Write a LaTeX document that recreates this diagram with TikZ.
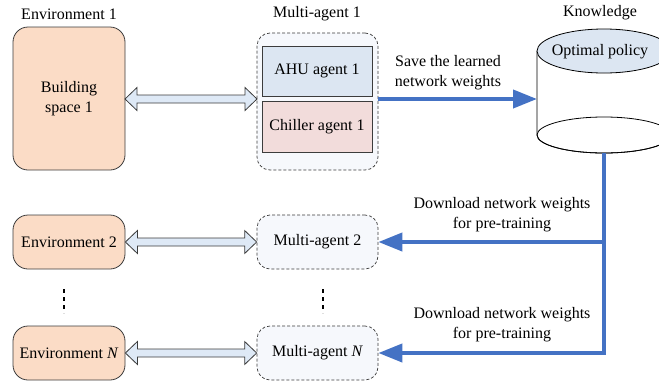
\documentclass[tikz,border=0pt]{standalone}
\usepackage{fontspec}
\setmainfont{Liberation Serif}
\usetikzlibrary{arrows.meta,calc}
\definecolor{peach}{RGB}{251,220,198}
\definecolor{ahu}{RGB}{220,230,242}
\definecolor{chil}{RGB}{242,220,219}
\definecolor{mabg}{RGB}{246,248,252}
\definecolor{dblfill}{RGB}{222,233,246}
\definecolor{myblue}{RGB}{68,114,196}
\definecolor{edge}{RGB}{60,60,60}
\tikzset{
  envbox/.style={draw=edge,line width=0.8pt,fill=peach,rounded corners=15pt,inner sep=0pt,align=center},
  mabox/.style={draw=edge,line width=0.7pt,densely dashed,fill=mabg,rounded corners=13pt,inner sep=0pt,align=center},
  agentbox/.style={draw=edge,line width=0.8pt,inner sep=0pt,align=center},
  lbl/.style={inner sep=0pt,align=center},
  bluearrow/.style={draw=myblue,line width=4pt,-{Triangle[length=24pt,width=18pt]}},
  blueline/.style={draw=myblue,line width=4pt},
  dbl/.style={draw=edge,line width=0.8pt,fill=dblfill,line join=miter},
  vdots/.style={line width=2.4pt,dash pattern=on 4pt off 4pt}
}
\newcommand\dblarrow[2]{%
  \path[dbl] let \p1=(#1.east), \p2=(#2.west) in
    (\x1,\y1) -- (\x1+12pt,\y1+11.5pt) -- (\x1+12pt,\y1+4pt) -- (\x2-12pt,\y1+4pt)
    -- (\x2-12pt,\y1+11.5pt) -- (\x2,\y1) -- (\x2-12pt,\y1-11.5pt) -- (\x2-12pt,\y1-4pt)
    -- (\x1+12pt,\y1-4pt) -- (\x1+12pt,\y1-11.5pt) -- cycle;}
\begin{document}
\begin{tikzpicture}[x=1pt,y=-1pt,font=\fontsize{16}{19.5}\selectfont]
\useasboundingbox (0,0) rectangle (659,381);
% titles
\node[lbl] (t1) at (69,14) {Environment 1};
\node[lbl] (t2) at (317,14) {Multi-agent 1};
\node[lbl] (t3) at (600,13) {Knowledge};
% environment boxes
\node[envbox,minimum width=112pt,minimum height=143pt] (env1) at (69,98.5) {Building\\space 1};
\node[envbox,minimum width=112pt,minimum height=54pt] (env2) at (69,242) {Environment 2};
\node[envbox,minimum width=112pt,minimum height=54pt] (envN) at (69,353) {Environment \textit{N}};
% multi-agent boxes
\node[mabox,minimum width=121pt,minimum height=137pt] (ma1) at (317.5,101.5) {};
\node[agentbox,fill=ahu,minimum width=110pt,minimum height=50pt] (ahu) at (317,71) {AHU agent 1};
\node[agentbox,fill=chil,minimum width=110pt,minimum height=51pt] (chiller) at (317,126.5) {Chiller agent 1};
\node[mabox,minimum width=121pt,minimum height=54pt] (ma2) at (317.5,242) {Multi-agent 2};
\node[mabox,minimum width=121pt,minimum height=54pt] (maN) at (317.5,353) {Multi-agent \textit{N}};
% dots
\draw[vdots] (64,289) -- (64,313);
\draw[vdots] (323,289) -- (323,313);
% double arrows
\coordinate (env1r) at (125,99);
\coordinate (ma1l) at (257,99);
\dblarrow{env1r}{ma1l}
\dblarrow{env2}{ma2}
\dblarrow{envN}{maN}
% knowledge cylinder
\draw[line width=0.8pt,fill=white] (537,51) -- (537,135) arc[start angle=180,end angle=360,x radius=67pt,y radius=18pt];
\draw[line width=0.8pt] (604,135) ellipse[x radius=67pt,y radius=18pt];
\draw[line width=0.8pt,fill=ahu] (604,51) ellipse[x radius=67pt,y radius=22pt];
\node[lbl] (opt) at (600,52) {Optimal policy};
\coordinate (kbleft) at (537,99);
\coordinate (kbbottom) at (604,153);
\coordinate (branch) at (604,242);
% blue arrows
\draw[bluearrow] (ma1.east |- kbleft) -- (kbleft);
\node[lbl] (save) at (448,72.5) {Save the learned\\network weights};
\draw[blueline] (kbbottom) -- (branch);
\draw[bluearrow] (branch) -- (ma2.east);
\draw[bluearrow] (branch) |- (maN.east);
\node[lbl] (dl1) at (502,214.5) {Download network weights\\for pre-training};
\node[lbl] (dl2) at (502,324.5) {Download network weights\\for pre-training};
\end{tikzpicture}
\end{document}
